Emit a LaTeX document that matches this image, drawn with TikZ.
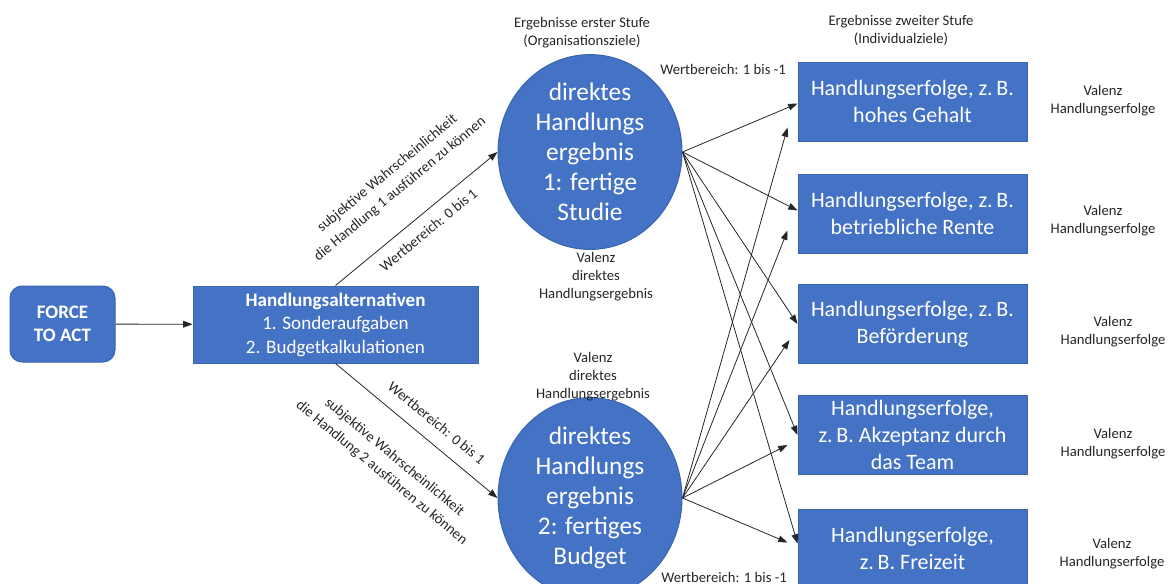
\documentclass[tikz,border=0pt]{standalone}
\usepackage{fontspec}
\setmainfont{Carlito}
\usetikzlibrary{arrows.meta,calc,shapes.geometric}
\definecolor{obox}{HTML}{4472C4}
\definecolor{oedge}{HTML}{3A64B0}
\begin{document}
\begin{tikzpicture}[x=0.75pt,y=-0.75pt,
  bluebox/.style={fill=obox,draw=oedge,line width=0.75pt,text=white,align=center,inner sep=0pt},
  resbox/.style={bluebox,minimum width=171.75pt,minimum height=59.25pt,font=\fontsize{16.5}{20.2}\selectfont},
  arr/.style={-{Triangle[length=7pt,width=5pt]},line width=0.6pt,draw=black!85},
  small/.style={font=\fontsize{11}{13.5}\selectfont,align=center,inner sep=0pt,text=black!85},
  slopelbl/.style={small,font=\fontsize{11}{15}\selectfont},
]
\useasboundingbox (0,0) rectangle (1173,583);

\node[bluebox,rounded corners=9pt,minimum width=78.75pt,minimum height=57pt,
  font=\bfseries\fontsize{14.3}{17.6}\selectfont] (force) at (62.5,324) {FORCE\\TO ACT};
\node[bluebox,minimum width=213.75pt,minimum height=57.75pt,
  font=\fontsize{14.3}{17.6}\selectfont] (alt) at (335.5,324.5)
  {\textbf{Handlungsalternativen}\\1. Sonderaufgaben\\2. Budgetkalkulationen};

\node[bluebox,ellipse,minimum width=138pt,minimum height=127.5pt,
  font=\fontsize{19}{22.5}\selectfont] (e1) at (590,152)
  {direktes\\Handlungs\\ergebnis\\1: fertige\\Studie};
\node[bluebox,ellipse,minimum width=138pt,minimum height=127.5pt,
  font=\fontsize{19}{22.5}\selectfont] (e2) at (590,498)
  {direktes\\Handlungs\\ergebnis\\2: fertiges\\Budget};

\node[resbox] (b1) at (912.5,101.5) {Handlungserfolge, z.\,B.\\hohes Gehalt};
\node[resbox] (b2) at (912.5,213.5) {Handlungserfolge, z.\,B.\\betriebliche Rente};
\node[resbox] (b3) at (912.5,324) {Handlungserfolge, z.\,B.\\Beförderung};
\node[resbox] (b4) at (912.5,435) {Handlungserfolge,\\z.\,B. Akzeptanz durch\\das Team};
\node[resbox] (b5) at (912.5,548.5) {Handlungserfolge,\\z.\,B. Freizeit};

% labels
\node[small] (t1) at (582,33) {Ergebnisse erster Stufe\\(Organisationsziele)};
\node[small] (t2) at (901,30) {Ergebnisse zweiter Stufe\\(Individualziele)};
\node[small] (w1) at (723,69) {Wertbereich: 1 bis -1};
\node[small] (w2) at (724,577) {Wertbereich: 1 bis -1};
\node[small] (v1) at (596,277) {Valenz\\direktes\\Handlungsergebnis};
\node[small] (v2) at (593,377) {Valenz\\direktes\\Handlungsergebnis};
\node[small] (h1) at (1103,101) {Valenz\\Handlungserfolge};
\node[small] (h2) at (1103,221) {Valenz\\Handlungserfolge};
\node[small] (h3) at (1113,332) {Valenz\\Handlungserfolge};
\node[small] (h4) at (1113,444) {Valenz\\Handlungserfolge};
\node[small] (h5) at (1112,554) {Valenz\\Handlungserfolge};

% connectors
\draw[arr] (force) -- (alt);
\draw[arr] (alt.north) -- (e1.west)
  node[slopelbl,pos=0.51,sloped,below=8pt] {Wertbereich: 0 bis 1}
  node[slopelbl,pos=0.53,sloped,above=20pt] {subjektive Wahrscheinlichkeit\\die Handlung 1 ausführen zu können};
\draw[arr] (alt.south) -- (e2.west)
  node[slopelbl,pos=0.55,sloped,above=10pt] {Wertbereich: 0 bis 1}
  node[slopelbl,pos=0.50,sloped,below=21pt] {subjektive Wahrscheinlichkeit\\die Handlung 2 ausführen zu können};

\draw[arr] (e1.east) -- ($(b1.west)+(0,2)$);
\draw[arr] (e1.east) -- ($(b2.west)+(0,-3)$);
\draw[arr] (e1.east) -- (b3.west);
\draw[arr] (e1.east) -- (b4.west);
\draw[arr] (e1.east) -- ($(b5.west)+(0,-5)$);

\draw[arr] (e2.east) -- ($(b1.west)+(-10,26)$);
\draw[arr] (e2.east) -- ($(b2.west)+(-10,17)$);
\draw[arr] (e2.east) -- ($(b3.west)+(-8,16)$);
\draw[arr] (e2.east) -- ($(b4.west)+(-10,10)$);
\draw[arr] (e2.east) -- ($(b5.west)+(-10,-6)$);
\end{tikzpicture}
\end{document}
